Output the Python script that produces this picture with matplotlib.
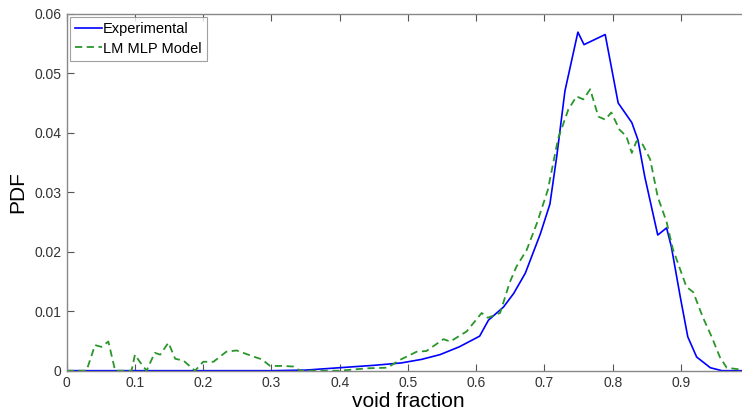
import matplotlib
matplotlib.use("Agg")
import matplotlib.pyplot as plt

plt.rcParams["font.family"] = ["Liberation Sans", "DejaVu Sans"]

# Experimental PDF of void fraction
exp_x = [0.0, 0.10, 0.20, 0.30, 0.35, 0.40, 0.45, 0.49, 0.52, 0.547, 0.575, 0.605,
         0.618, 0.64, 0.655, 0.672, 0.694, 0.708, 0.718, 0.730, 0.749, 0.758,
         0.789, 0.808, 0.828, 0.837, 0.847, 0.866, 0.879, 0.886, 0.899, 0.910,
         0.923, 0.943, 0.96, 1.0]
exp_y = [0.0, 0.0, 0.0, 0.0, 0.0001, 0.0005, 0.0009, 0.0013, 0.0019, 0.0027, 0.0040, 0.0058,
         0.0085, 0.0107, 0.0130, 0.0164, 0.0230, 0.0280, 0.0360, 0.0470, 0.0569, 0.0548,
         0.0565, 0.0450, 0.0417, 0.0388, 0.0326, 0.0228, 0.0240, 0.0208, 0.0124, 0.0057,
         0.0023, 0.0005, 0.0, 0.0]

# LM MLP model PDF
mod_x = [0.0, 0.029, 0.0415, 0.051, 0.061, 0.071, 0.095, 0.100, 0.107, 0.117, 0.129,
         0.137, 0.149, 0.159, 0.171, 0.188, 0.200, 0.215, 0.234, 0.249, 0.273, 0.286,
         0.298, 0.317, 0.332, 0.342, 0.40, 0.44, 0.47, 0.488, 0.513, 0.527, 0.552,
         0.562, 0.586, 0.608, 0.617, 0.635, 0.649, 0.659, 0.674, 0.689, 0.705, 0.72,
         0.735, 0.747, 0.757, 0.767, 0.779, 0.789, 0.798, 0.81, 0.82, 0.828, 0.835,
         0.844, 0.855, 0.866, 0.879, 0.888, 0.908, 0.918, 0.932, 0.945, 0.957, 0.967,
         1.0]
mod_y = [0.0, 0.0, 0.0043, 0.0040, 0.0049, 0.0, 0.0, 0.0027, 0.0015, 0.0, 0.0030,
         0.0027, 0.0047, 0.0020, 0.0017, 0.0, 0.0015, 0.0015, 0.0032, 0.0034, 0.0024, 0.0019,
         0.0008, 0.0008, 0.0007, 0.0, 0.0, 0.0004, 0.0005, 0.0018, 0.0032, 0.0033, 0.0053,
         0.0049, 0.0066, 0.0097, 0.0089, 0.0097, 0.0148, 0.0175, 0.0203, 0.0248, 0.0304, 0.0390,
         0.0439, 0.0461, 0.0456, 0.0473, 0.0427, 0.0422, 0.0434, 0.0405, 0.0394, 0.0366, 0.0386,
         0.0380, 0.0355, 0.0292, 0.0250, 0.0205, 0.0141, 0.0132, 0.0090, 0.0057, 0.0023, 0.0005,
         0.0]

x_ticks = [0, 0.1, 0.2, 0.3, 0.4, 0.5, 0.6, 0.7, 0.8, 0.9]
x_tick_labels = ["0", "0.1", "0.2", "0.3", "0.4", "0.5", "0.6", "0.7", "0.8", "0.9"]
y_ticks = [0, 0.01, 0.02, 0.03, 0.04, 0.05, 0.06]
y_tick_labels = ["0", "0.01", "0.02", "0.03", "0.04", "0.05", "0.06"]

fig = plt.figure(figsize=(7.42, 4.19), dpi=100)
ax = fig.add_axes([0.0899, 0.1153, 0.9198, 0.852])

ax.plot(exp_x, exp_y, color="#0000ff", lw=1.2, label="Experimental")
ax.plot(mod_x, mod_y, color="#2a962a", lw=1.3, ls=(0, (4, 2.5)), label="LM MLP Model")

ax.set_xlim(0, 1)
ax.set_ylim(0, 0.06)
ax.set_xticks(x_ticks)
ax.set_xticklabels(x_tick_labels)
ax.set_yticks(y_ticks)
ax.set_yticklabels(y_tick_labels)
ax.tick_params(direction="in", length=5, width=0.8, color="#555555", labelcolor="#333333",
               labelsize=10, top=True, right=True, pad=4)
for s in ax.spines.values():
    s.set_color("#888888")
    s.set_linewidth(1.0)

ax.set_xlabel("void fraction", fontsize=15, labelpad=1)
ax.set_ylabel("PDF", fontsize=15, labelpad=5)

leg = ax.legend(loc="upper left", fontsize=10.5, frameon=True, fancybox=False,
                handlelength=1.8, handletextpad=0.1, borderpad=0.35, labelspacing=0.35,
                borderaxespad=0.25)
leg.get_frame().set_edgecolor("#888888")
leg.get_frame().set_linewidth(0.8)

fig.savefig("out.png", dpi=100)
